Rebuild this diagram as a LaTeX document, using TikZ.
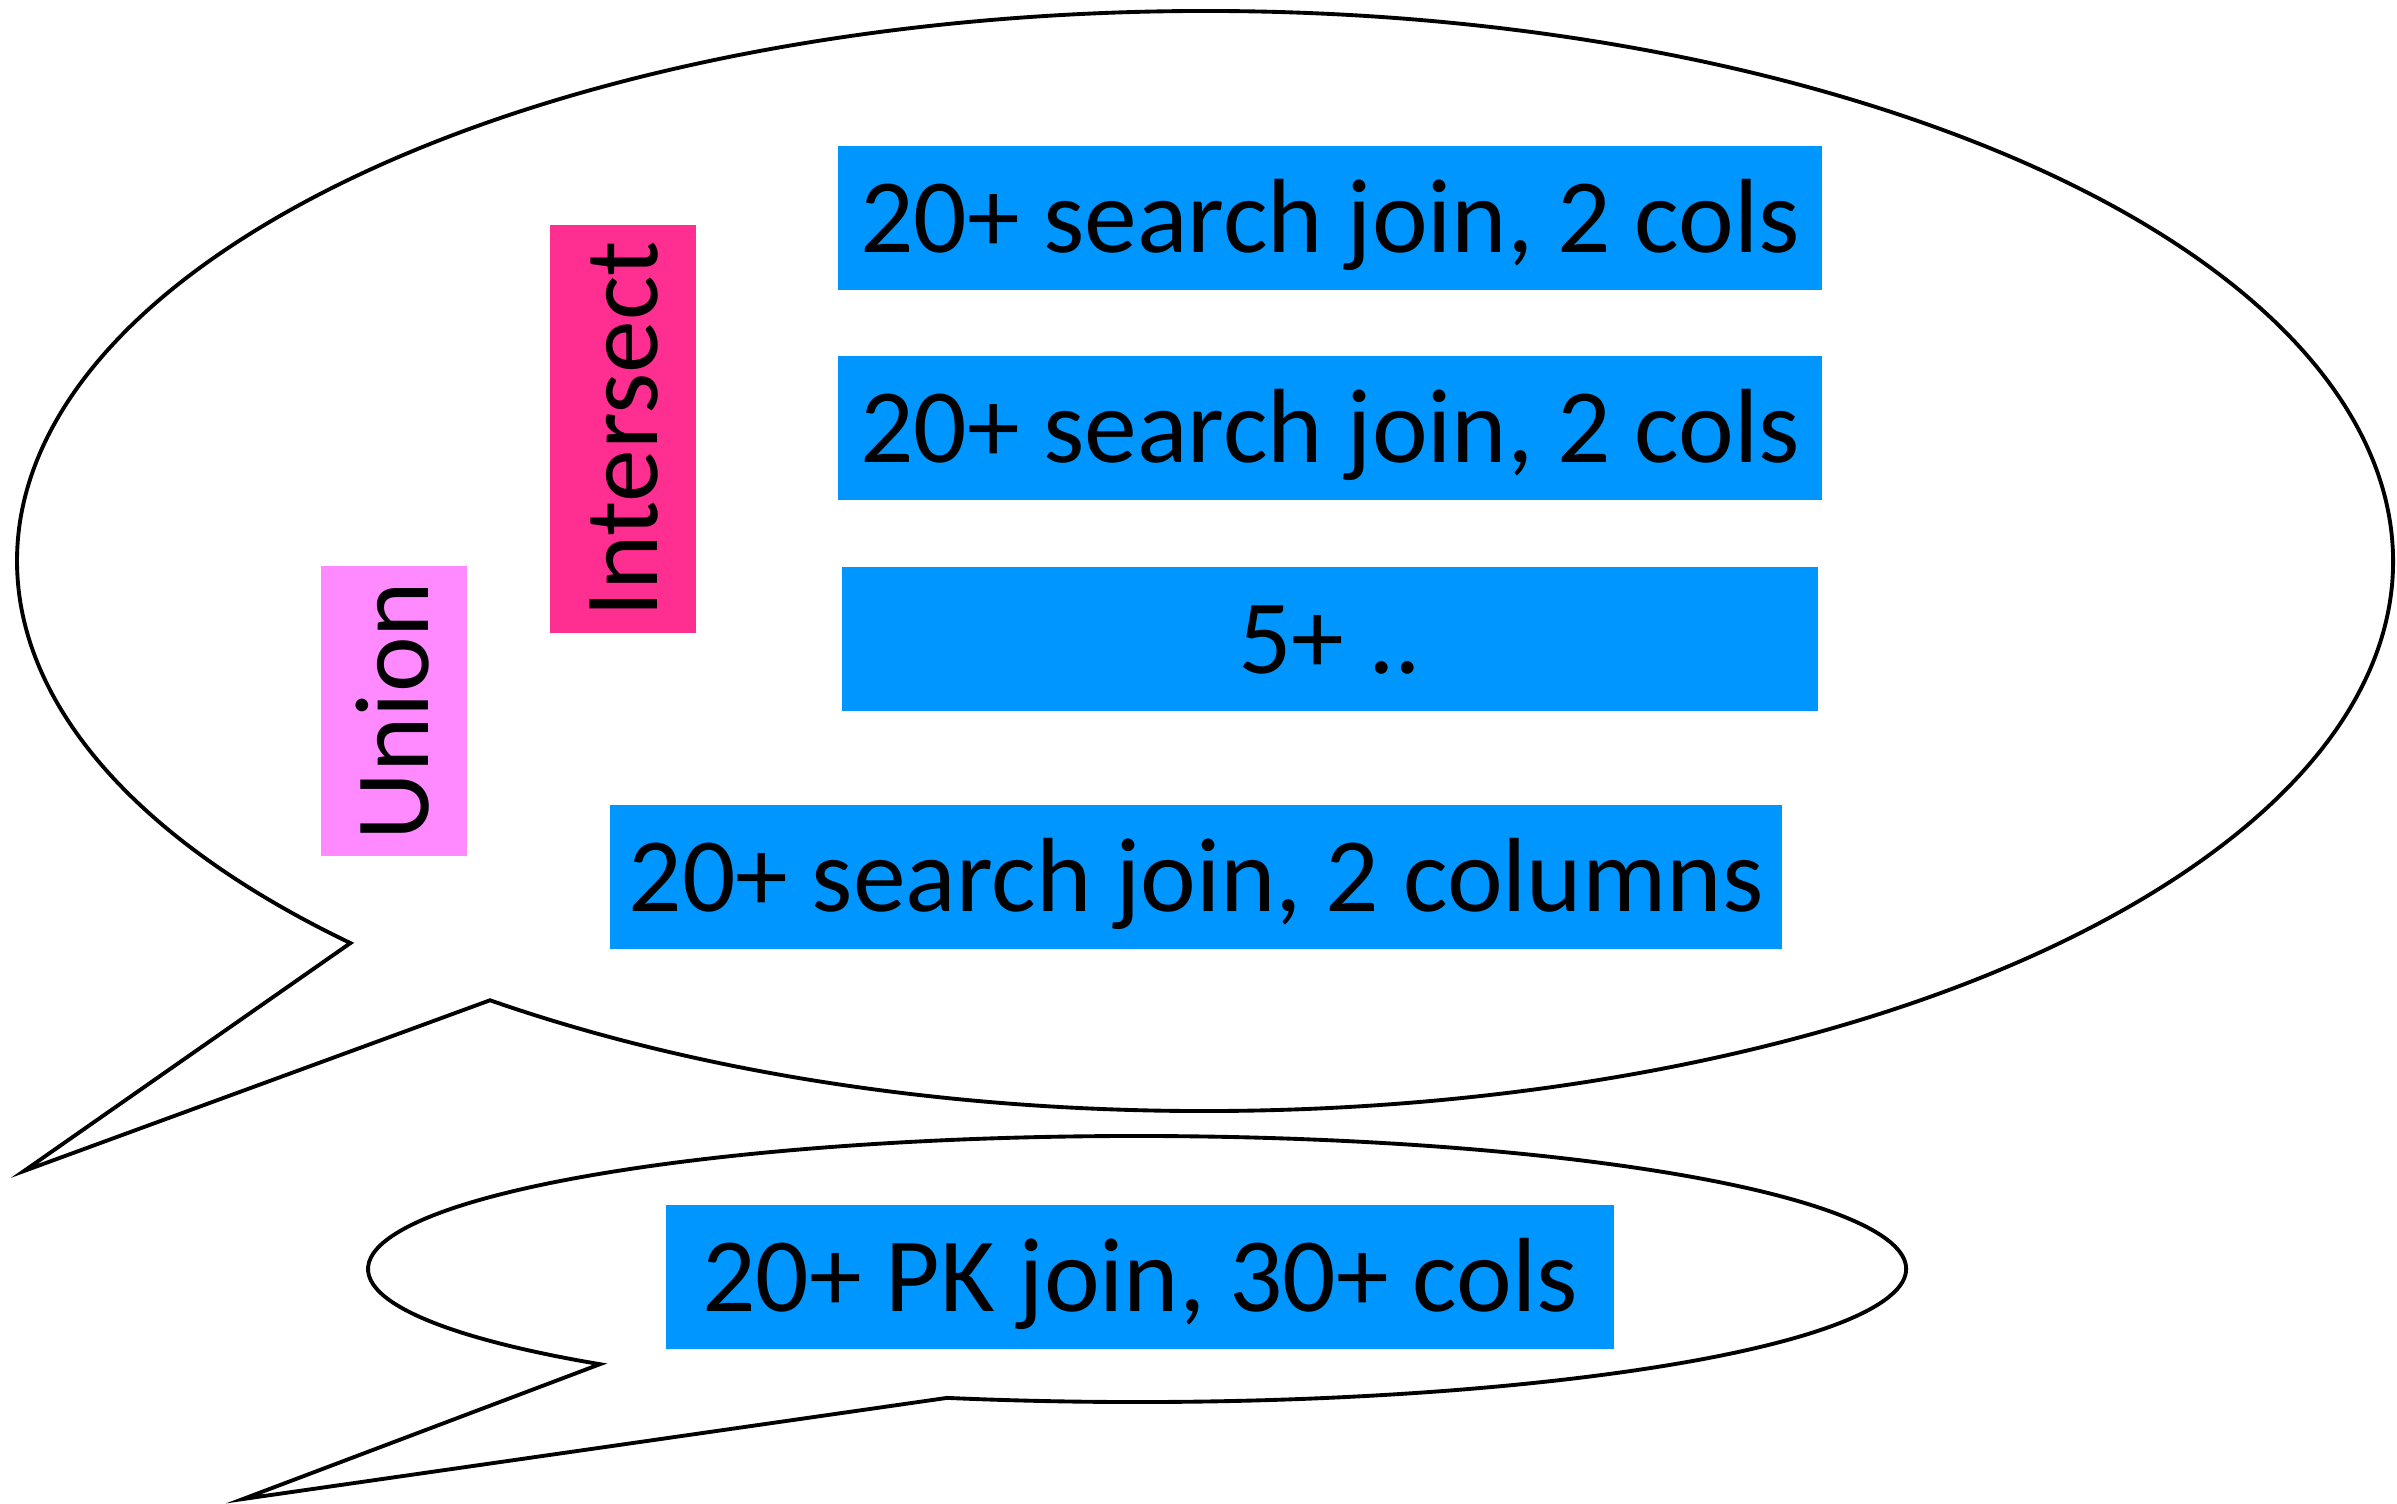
\documentclass[tikz,border=0pt]{standalone}
\usepackage{fontspec}
\setmainfont{Carlito}
\definecolor{qblue}{RGB}{0,150,255}
\definecolor{qpink}{RGB}{255,47,146}
\definecolor{qlilac}{RGB}{255,138,255}
\begin{document}
\begin{tikzpicture}[x=0.01cm, y=-0.01cm]
\tikzstyle{bubble} 	= [draw, line width = 1.1pt, line join = miter] % speech bubble outline
\tikzstyle{qbox} 	= [fill = qblue, inner sep = 0em, minimum height = 1.44cm, text height = 0.68cm, text depth = 0em, font = \fontsize{30}{36}\selectfont] % define query block
\tikzstyle{setop} 	= [qbox, rotate = 90, minimum height = 1.45cm] % define set operation block

\useasboundingbox (0,0) rectangle (2397,1503);

% upper speech bubble
\coordinate (bigC) at (1205,561);
\coordinate (bigTip) at (24,1171);
\path (bigC) ++(136:1188 and 550) coordinate (bigA);
\path (bigC) ++(127:1188 and 550) coordinate (bigB);
\draw[bubble] (bigA) -- (bigTip) -- (bigB) arc[start angle = 127, end angle = -224, x radius = 1188, y radius = 550] -- cycle;

% lower speech bubble
\coordinate (smallC) at (1137,1269);
\coordinate (smallTip) at (243,1499);
\path (smallC) ++(134.3:769 and 133) coordinate (smallA);
\path (smallC) ++(104.3:769 and 133) coordinate (smallB);
\draw[bubble] (smallA) -- (smallTip) -- (smallB) arc[start angle = 104.3, end angle = -225.7, x radius = 769, y radius = 133] -- cycle;

% query blocks
\node(Q1)[qbox, minimum width = 9.84cm] at (1330,218){20+ search join, 2 cols};
\node(Q2)[qbox, minimum width = 9.84cm, below of = Q1, node distance = 2.1cm]{20+ search join, 2 cols};
\node(Q3)[qbox, minimum width = 9.76cm, below of = Q2, node distance = 2.11cm]{5+ ..};
\node(Q4)[qbox, minimum width = 11.72cm] at (1196,877){20+ search join, 2 columns};
\node(Q5)[qbox, minimum width = 9.48cm] at (1140,1277){20+ PK join, 30+ cols};

% set operations
\node(IS)[setop, fill = qpink, minimum width = 4.08cm] at (623,429){Intersect};
\node(UN)[setop, fill = qlilac, minimum width = 2.89cm] at (394,711){Union};
\end{tikzpicture}
\end{document}
